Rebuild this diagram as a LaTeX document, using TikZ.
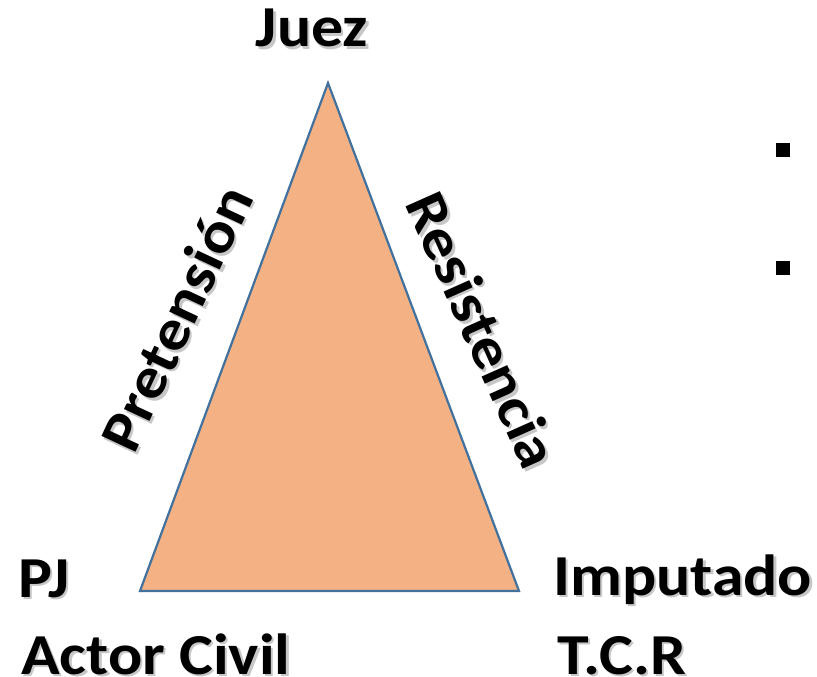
\documentclass[tikz,border=0pt]{standalone}
\usepackage{fontspec}
\setmainfont{Carlito}[FakeStretch=1.1]
\begin{document}
\begin{tikzpicture}[x=1pt,y=-1pt,
  lbl/.style={inner sep=0pt, font=\fontsize{58}{60}\selectfont\bfseries, text=black},
  shd/.style={inner sep=0pt, font=\fontsize{58}{60}\selectfont\bfseries, text=black!40, opacity=0.55},
  tri/.style={fill=tri-fill, draw=tri-line, line width=2.2pt, line join=miter},
  bullet/.style={fill=black, draw=none, minimum size=14pt, inner sep=0pt}]
\definecolor{tri-fill}{HTML}{F4B183}
\definecolor{tri-line}{HTML}{41719C}
\useasboundingbox (0,0) rectangle (817,677);
% triangle
\coordinate (apex) at (328,83);
\coordinate (bl) at (140,591);
\coordinate (br) at (519,591);
\draw[tri] (apex) -- (bl) -- (br) -- cycle;
% shadows
\node[shd, anchor=base] (juezs) at (314.5,49.5) {Juez};
\node[shd, anchor=base west] (pjs) at (20.5,599.5) {PJ};
\node[shd, anchor=base west] (actors) at (23.5,676.5) {Actor Civil};
\node[shd, anchor=base west] (imps) at (555.5,597.5) {Imputado};
\node[shd, anchor=base west] (tcrs) at (559.5,676.5) {T.C.R};
\node[shd, rotate=65] (pres) at (178.5,320.5) {Pretensión};
\node[shd, rotate=-66] (ress) at (485.5,332.5) {Resistencia};
% labels
\node[lbl, anchor=base] (juez) at (312,47) {Juez};
\node[lbl, anchor=base west] (pj) at (18,597) {PJ};
\node[lbl, anchor=base west] (actor) at (21,674) {Actor Civil};
\node[lbl, anchor=base west] (imp) at (553,595) {Imputado};
\node[lbl, anchor=base west] (tcr) at (557,674) {T.C.R};
\node[lbl, rotate=65] (pre) at (176,318) {Pretensión};
\node[lbl, rotate=-66] (res) at (483,330) {Resistencia};
% bullets
\node[bullet] (b1) at (783,150) {};
\node[bullet] (b2) at (783,268) {};
\end{tikzpicture}
\end{document}
